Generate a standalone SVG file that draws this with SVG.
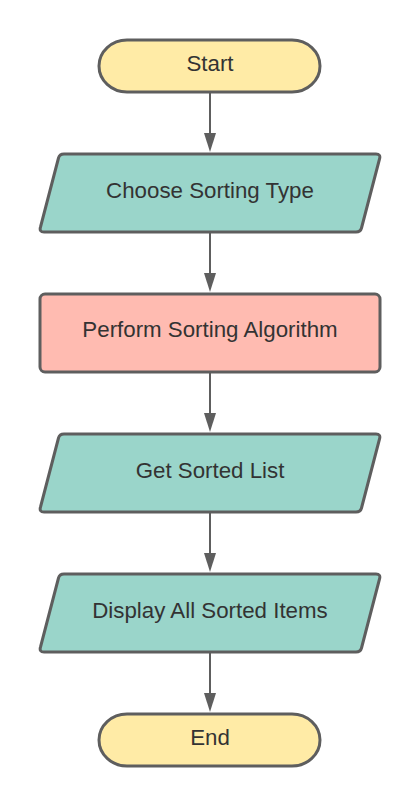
<svg xmlns="http://www.w3.org/2000/svg" width="420" height="806" viewBox="0 0 420 806">
<defs>
<style>
.term{fill:#FFEBA6;stroke:#5E5E5E;stroke-width:3}
.io{fill:#9AD5CA;stroke:#5E5E5E;stroke-width:3;stroke-linejoin:round}
.proc{fill:#FFBBB1;stroke:#5E5E5E;stroke-width:3}
.lbl{font-family:"Liberation Sans",Arial,sans-serif;font-size:22.3px;fill:#333333;text-anchor:middle}
.conn{stroke:#5E5E5E;stroke-width:2;fill:none}
.head{fill:#5E5E5E}
</style>
</defs>
<rect width="420" height="806" fill="#FFFFFF"/>
<g id="connectors">
<path class="conn" d="M210,93 L210,133"/><path class="head" d="M204,133 L216,133 L210,152 Z"/>
<path class="conn" d="M210,233 L210,273"/><path class="head" d="M204,273 L216,273 L210,292 Z"/>
<path class="conn" d="M210,373 L210,413"/><path class="head" d="M204,413 L216,413 L210,432 Z"/>
<path class="conn" d="M210,513 L210,553"/><path class="head" d="M204,553 L216,553 L210,572 Z"/>
<path class="conn" d="M210,653 L210,693"/><path class="head" d="M204,693 L216,693 L210,712 Z"/>
</g>
<g id="start">
<rect class="term" x="99" y="40" width="221" height="52" rx="28" ry="26"/>
<text class="lbl" x="210" y="71">Start</text>
</g>
<g id="choose">
<path class="io" d="M64,154 L376,154 Q381,154 379.5,159 L361.5,228 Q360.5,232 356,232 L44,232 Q39,232 40.5,227 L58.5,158 Q59.5,154 64,154 Z"/>
<text class="lbl" x="210" y="198">Choose Sorting Type</text>
</g>
<g id="perform">
<rect class="proc" x="40" y="294" width="340" height="78" rx="5" ry="5"/>
<text class="lbl" x="210" y="337">Perform Sorting Algorithm</text>
</g>
<g id="getsorted">
<path class="io" d="M64,434 L376,434 Q381,434 379.5,439 L361.5,508 Q360.5,512 356,512 L44,512 Q39,512 40.5,507 L58.5,438 Q59.5,434 64,434 Z"/>
<text class="lbl" x="210" y="478">Get Sorted List</text>
</g>
<g id="display">
<path class="io" d="M64,574 L376,574 Q381,574 379.5,579 L361.5,648 Q360.5,652 356,652 L44,652 Q39,652 40.5,647 L58.5,578 Q59.5,574 64,574 Z"/>
<text class="lbl" x="210" y="618">Display All Sorted Items</text>
</g>
<g id="end">
<rect class="term" x="99" y="714" width="221" height="52" rx="28" ry="26"/>
<text class="lbl" x="210" y="745">End</text>
</g>
</svg>
